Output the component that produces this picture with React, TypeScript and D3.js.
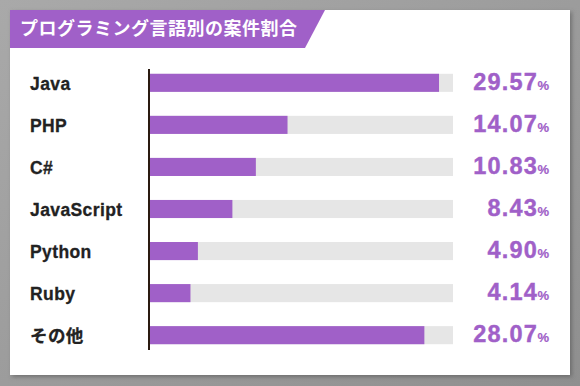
import React from 'react';
import * as d3 from 'd3';

const languages = ['Java', 'PHP', 'C#', 'JavaScript', 'Python', 'Ruby', 'その他'];
const shares = [29.57, 14.07, 10.83, 8.43, 4.9, 4.14, 28.07];
const title = 'プログラミング言語別の案件割合';

const W = 580;
const H = 386;
const purple = '#a060c8';

export default function App() {
  const x = d3.scaleLinear().domain([0, 31]).range([150, 453]);
  const y = d3.scaleBand().domain(languages).range([62, 356]).paddingInner(0.57).paddingOuter(0.28);
  const bh = y.bandwidth();

  return (
    <svg width={W} height={H} style={{ position: 'absolute', left: 0, top: 0 }}>
      <defs>
        <linearGradient id="bg" x1="0" y1="0" x2="1" y2="1">
          <stop offset="0" stopColor="#a9a9a9" />
          <stop offset="1" stopColor="#8f8f8f" />
        </linearGradient>
        <filter id="shadow" x="-5%" y="-5%" width="115%" height="115%">
          <feDropShadow dx="2" dy="2" stdDeviation="2" floodColor="#555" floodOpacity="0.6" />
        </filter>
      </defs>
      <rect width={W} height={H} fill="url(#bg)" />
      <rect x={10} y={10} width={560} height={365} fill="#fff" filter="url(#shadow)" />

      {/* title band */}
      <path d="M10,10 L325,10 L305,48 L10,48 Z" fill={purple} />
      <text
        x={20}
        y={34.5}
        fill="#fff"
        fontFamily="'Noto Sans CJK JP', sans-serif"
        fontWeight={700}
        fontSize={18}
        letterSpacing={0.5}
      >
        {title}
      </text>

      {languages.map((d, i) => (
        <g key={d}>
          <rect x={x(0)} y={y(d)} width={x(31) - x(0)} height={bh} fill="#e6e6e6" />
          <rect x={x(0)} y={y(d)} width={x(shares[i]) - x(0)} height={bh} fill={purple} />
          <text
            x={30}
            y={(y(d) as number) + bh / 2 + 7}
            fill="#222"
            fontFamily="'Liberation Sans', Arial, 'Noto Sans CJK JP', sans-serif"
            fontWeight={700}
            fontSize={17.5}
            letterSpacing={0.4}
            stroke="#222"
            strokeWidth={0.3}
          >
            {d}
          </text>
          <text
            x={549}
            y={(y(d) as number) + bh / 2 + 7}
            textAnchor="end"
            fill={purple}
            stroke={purple}
            strokeWidth={0.4}
            fontFamily="'Liberation Sans', Arial, sans-serif"
            fontWeight={700}
            fontSize={23.5}
          >
            <tspan letterSpacing={1.2}>{shares[i].toFixed(2)}</tspan>
            <tspan fontSize={13} dx={-0.5} strokeWidth={0.2}>%</tspan>
          </text>
        </g>
      ))}

      <line x1={149} x2={149} y1={69} y2={350} stroke="#2a1a10" strokeWidth={2} />
    </svg>
  );
}
